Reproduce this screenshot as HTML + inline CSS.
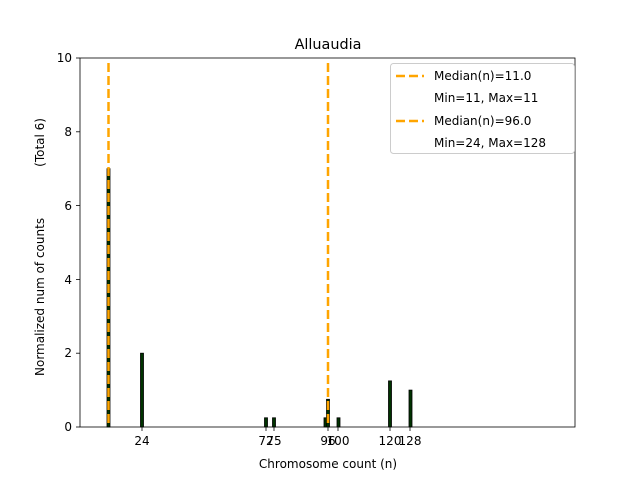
<!DOCTYPE html>
<html><head><style>body{margin:0;background:#fff}</style></head><body>
<svg width="640" height="480" xmlns="http://www.w3.org/2000/svg" font-family="DejaVu Sans, Liberation Sans, sans-serif">
<rect width="640" height="480" fill="#fff"/>
<text x="328" y="49" font-size="14.4" text-anchor="middle">Alluaudia</text>
<g fill="#003300" stroke="#000" stroke-width="0.8">
<rect x="107" y="168.7" width="3" height="258.3"/>
<rect x="140.5" y="353.2" width="3" height="73.8"/>
<rect x="264.5" y="417.8" width="3" height="9.2"/>
<rect x="272.5" y="417.8" width="3" height="9.2"/>
<rect x="324" y="417.8" width="3" height="9.2"/>
<rect x="326.5" y="399.3" width="3" height="27.7"/>
<rect x="337" y="417.8" width="3" height="9.2"/>
<rect x="388.5" y="380.9" width="3" height="46.1"/>
<rect x="409" y="390.1" width="3" height="36.9"/>
</g>
<g stroke="#ffa500" stroke-width="2.5" stroke-dasharray="9,4" fill="none">
<line x1="108.5" y1="63" x2="108.5" y2="427"/>
<line x1="328" y1="63" x2="328" y2="427"/>
</g>
<rect x="80" y="58" width="495" height="369" fill="none" stroke="#000" stroke-width="0.8"/>
<g font-size="12" text-anchor="end">
<g stroke="#000" stroke-width="0.8">
<line x1="76" y1="427" x2="80" y2="427"/><line x1="76" y1="353.2" x2="80" y2="353.2"/><line x1="76" y1="279.4" x2="80" y2="279.4"/><line x1="76" y1="205.6" x2="80" y2="205.6"/><line x1="76" y1="131.8" x2="80" y2="131.8"/><line x1="76" y1="58" x2="80" y2="58"/>
</g>
<text x="72" y="431">0</text><text x="72" y="357">2</text><text x="72" y="284">4</text><text x="72" y="210">6</text><text x="72" y="136">8</text><text x="72" y="62">10</text>
</g>
<g stroke="#000" stroke-width="0.8">
<line x1="142" y1="427" x2="142" y2="431"/><line x1="266" y1="427" x2="266" y2="431"/><line x1="274" y1="427" x2="274" y2="431"/><line x1="328" y1="427" x2="328" y2="431"/><line x1="338" y1="427" x2="338" y2="431"/><line x1="390" y1="427" x2="390" y2="431"/><line x1="410" y1="427" x2="410" y2="431"/>
</g>
<g font-size="12" text-anchor="middle">
<text x="142" y="445">24</text><text x="266" y="445">72</text><text x="274" y="445">75</text><text x="328" y="445">96</text><text x="338" y="445">100</text><text x="390" y="445">120</text><text x="410" y="445">128</text>
</g>
<text x="328" y="468" font-size="12" text-anchor="middle">Chromosome count (n)</text>
<text transform="translate(44,376) rotate(-90)" font-size="12" text-anchor="start">Normalized num of counts</text>
<text transform="translate(44,118) rotate(-90)" font-size="12" text-anchor="end">(Total 6)</text>
<rect x="390.5" y="63.5" width="184" height="90" rx="3" fill="#fff" fill-opacity="0.8" stroke="#ccc"/>
<g stroke="#ffa500" stroke-width="2.5" stroke-dasharray="9,4"><line x1="396" y1="76" x2="424" y2="76"/><line x1="396" y1="121" x2="424" y2="121"/></g>
<g font-size="12"><text x="434" y="80">Median(n)=11.0</text><text x="434" y="102">Min=11, Max=11</text><text x="434" y="125">Median(n)=96.0</text><text x="434" y="147">Min=24, Max=128</text></g>
</svg>
</body></html>
